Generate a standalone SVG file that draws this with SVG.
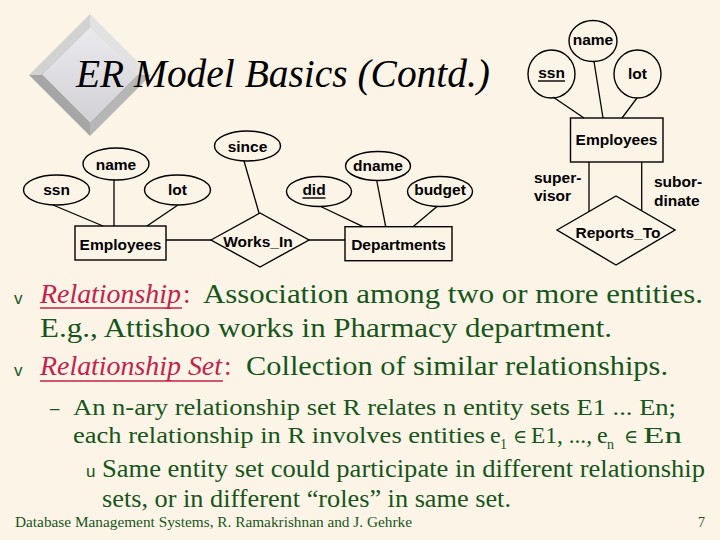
<svg xmlns="http://www.w3.org/2000/svg" width="720" height="540" viewBox="0 0 720 540">
<defs>
<linearGradient id="face" x1="0" y1="0" x2="0" y2="1">
<stop offset="0" stop-color="#eaeaee"/>
<stop offset="1" stop-color="#d2d2d6"/>
</linearGradient>
<style>
.shape{fill:none;stroke:#000;stroke-width:1.4}
.conn line{stroke:#000;stroke-width:1.3}
.er{font-family:"Liberation Sans",Arial,sans-serif;font-weight:bold;font-size:15.5px;fill:#000;text-anchor:middle}
.erl{font-family:"Liberation Sans",Arial,sans-serif;font-weight:bold;font-size:15.5px;fill:#000}
.title{font-family:"Liberation Serif","Times New Roman",serif;font-style:italic;font-size:39px;fill:#000}
.body{font-family:"Liberation Serif","DejaVu Serif",serif;font-size:27px;fill:#16561a}
.sub{font-family:"Liberation Serif","DejaVu Serif",serif;font-size:24px;fill:#16561a}
.idx{font-family:"Liberation Serif","DejaVu Serif",serif;font-size:14px;fill:#16561a}
.sub2{font-family:"Liberation Serif","DejaVu Serif",serif;font-size:25px;fill:#16561a}
.sym{font-family:"DejaVu Serif","Liberation Serif",serif;font-size:19px;fill:#16561a}
.key{font-family:"Liberation Serif","DejaVu Serif",serif;font-style:italic;font-size:27px;fill:#c4224a}
.colon{font-family:"Liberation Serif","DejaVu Serif",serif;font-size:27px;fill:#c4224a}
.bul{font-family:"Liberation Sans",Arial,sans-serif;font-size:17px;fill:#16561a}
.foot{font-family:"Liberation Serif","DejaVu Serif",serif;font-size:14px;fill:#16561a}
.ul{stroke:#c4224a;stroke-width:1.6}
</style>
</defs>
<rect width="720" height="540" fill="#fdf4e8"/>

<g id="title-diamond">
<polygon points="90,14 90,28 43,75 29,75" fill="#d2d2d2"/>
<polygon points="90,14 151,75 137,75 90,28" fill="#e2e2e2"/>
<polygon points="151,75 90,136 90,122 137,75" fill="#b6b6b6"/>
<polygon points="90,136 29,75 43,75 90,122" fill="#a6a6a6"/>
<polygon points="90,28 137,75 90,122 43,75" fill="url(#face)"/>
</g>
<text class="title" x="76" y="87" textLength="414" lengthAdjust="spacingAndGlyphs">ER Model Basics (Contd.)</text>

<g id="connectors" class="conn">
<line x1="53" y1="205" x2="103" y2="226"/>
<line x1="114" y1="180" x2="114" y2="226"/>
<line x1="178" y1="205" x2="147" y2="226"/>
<line x1="166" y1="240" x2="211" y2="240"/>
<line x1="244" y1="161" x2="259" y2="213"/>
<line x1="309" y1="240" x2="345" y2="240"/>
<line x1="320.7" y1="206.5" x2="363" y2="226.7"/>
<line x1="376.7" y1="180.5" x2="385.7" y2="226.7"/>
<line x1="437" y1="206.5" x2="413" y2="226.7"/>
<line x1="553" y1="97" x2="584" y2="118"/>
<line x1="594" y1="61.5" x2="603" y2="118"/>
<line x1="637" y1="98" x2="622" y2="118"/>
<line x1="589" y1="162" x2="589" y2="212"/>
<line x1="641.7" y1="162" x2="641.7" y2="210.5"/>
</g>

<g id="l-ssn"><ellipse class="shape" cx="56.5" cy="190" rx="33" ry="15"/><text class="er" x="56.5" y="195">ssn</text></g>
<g id="l-name"><ellipse class="shape" cx="116" cy="164" rx="33" ry="16"/><text class="er" x="116" y="170">name</text></g>
<g id="l-lot"><ellipse class="shape" cx="177.5" cy="190" rx="33" ry="15"/><text class="er" x="177.5" y="195">lot</text></g>
<g id="l-employees"><rect class="shape" x="75" y="226" width="91" height="34"/><text class="er" x="120.5" y="250">Employees</text></g>
<g id="l-since"><ellipse class="shape" cx="247.5" cy="146" rx="33" ry="15"/><text class="er" x="247.5" y="152">since</text></g>
<g id="l-worksin"><polygon class="shape" points="211,240 260,213 309,240 260,267"/><text class="er" x="258" y="247">Works_In</text></g>
<g id="l-did"><ellipse class="shape" cx="319" cy="191.5" rx="32.5" ry="15"/><text class="er" x="314" y="195">did</text><line x1="302.5" y1="198" x2="325.5" y2="198" stroke="#000" stroke-width="1.4"/></g>
<g id="l-dname"><ellipse class="shape" cx="378" cy="166" rx="32.5" ry="14.5"/><text class="er" x="378" y="171">dname</text></g>
<g id="l-budget"><ellipse class="shape" cx="440" cy="191.5" rx="32.5" ry="15"/><text class="er" x="440" y="195">budget</text></g>
<g id="l-departments"><rect class="shape" x="345" y="226.7" width="107" height="34"/><text class="er" x="398.5" y="250">Departments</text></g>

<g id="r-name"><ellipse class="shape" cx="593" cy="41" rx="24" ry="20.5"/><text class="er" x="593" y="45">name</text></g>
<g id="r-ssn"><ellipse class="shape" cx="551.5" cy="74" rx="23.5" ry="24"/><text class="er" x="551.5" y="78">ssn</text><line x1="538" y1="81" x2="565" y2="81" stroke="#000" stroke-width="1.4"/></g>
<g id="r-lot"><ellipse class="shape" cx="637.5" cy="74" rx="23.5" ry="24"/><text class="er" x="637.5" y="79">lot</text></g>
<g id="r-employees"><rect class="shape" x="570.5" y="118" width="92.5" height="44"/><text class="er" x="616.5" y="145">Employees</text></g>
<g id="r-reportsto"><polygon class="shape" points="557,230 616,196 675,230 616,265"/><text class="er" x="618" y="238">Reports_To</text></g>
<g id="r-roles">
<text class="erl" x="534" y="183">super-</text>
<text class="erl" x="534" y="201">visor</text>
<text class="erl" x="654" y="187">subor-</text>
<text class="erl" x="654" y="206">dinate</text>
</g>

<g id="bullets">
<text class="bul" x="14" y="304">v</text>
<text class="key" x="40" y="303" textLength="141" lengthAdjust="spacingAndGlyphs">Relationship</text>
<line class="ul" x1="40" y1="308" x2="182" y2="308"/>
<text class="colon" x="183" y="303">:</text>
<text class="body" x="203" y="303" textLength="500" lengthAdjust="spacingAndGlyphs">Association among two or more entities.</text>
<text class="body" x="40" y="337" textLength="572" lengthAdjust="spacingAndGlyphs">E.g., Attishoo works in Pharmacy department.</text>

<text class="bul" x="14" y="376">v</text>
<text class="key" x="40" y="375" textLength="182" lengthAdjust="spacingAndGlyphs">Relationship Set</text>
<line class="ul" x1="40" y1="381" x2="223" y2="381"/>
<text class="colon" x="224" y="375">:</text>
<text class="body" x="246" y="375" textLength="422" lengthAdjust="spacingAndGlyphs">Collection of similar relationships.</text>

<text class="bul" x="50" y="414">–</text>
<text class="sub" x="73" y="415" textLength="603" lengthAdjust="spacingAndGlyphs">An n-ary relationship set  R relates n entity sets E1 ... En;</text>
<text class="sub" x="73" y="443" textLength="412" lengthAdjust="spacingAndGlyphs">each relationship in R involves entities</text>
<text class="sub" x="490" y="443">e</text>
<text class="idx" x="500" y="449">1</text>
<text class="sym" x="513" y="443">∈</text>
<text class="sub" x="531" y="443" textLength="61" lengthAdjust="spacingAndGlyphs">E1, ...,</text>
<text class="sub" x="597" y="443">e</text>
<text class="idx" x="607" y="449">n</text>
<text class="sym" x="624" y="443">∈</text>
<text class="sub" x="643" y="443" textLength="39" lengthAdjust="spacingAndGlyphs">En</text>

<text class="bul" x="86" y="477">u</text>
<text class="sub2" x="102" y="477" textLength="603" lengthAdjust="spacingAndGlyphs">Same entity set could participate in different relationship</text>
<text class="sub2" x="102" y="507" textLength="409" lengthAdjust="spacingAndGlyphs">sets, or in different “roles” in same set.</text>
</g>

<g id="footer">
<text class="foot" x="15" y="527" textLength="397" lengthAdjust="spacingAndGlyphs">Database Management Systems, R. Ramakrishnan and J. Gehrke</text>
<text class="foot" x="705" y="527" text-anchor="end">7</text>
</g>
</svg>
